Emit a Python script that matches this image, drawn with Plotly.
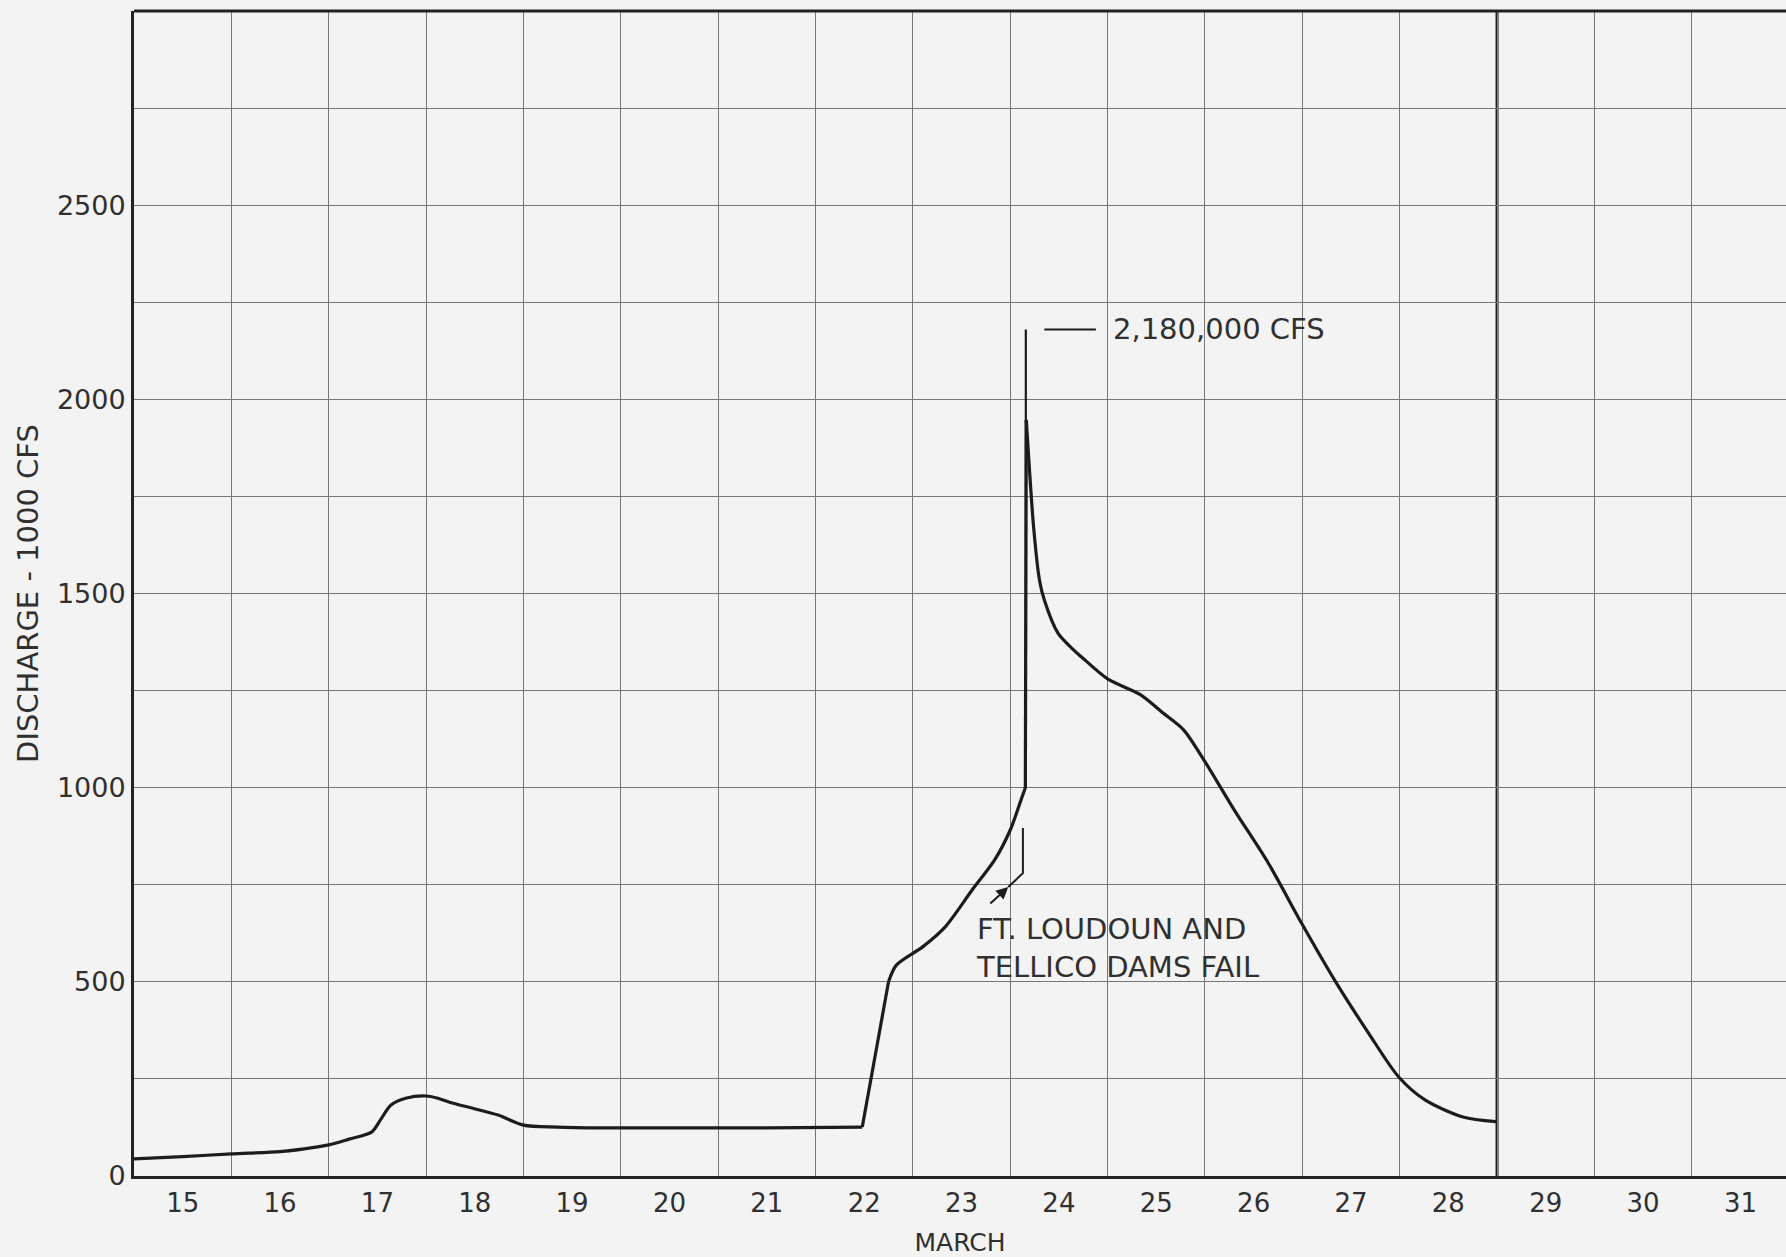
import plotly.graph_objects as go

# Discharge hydrograph, March (day of month, 1000 cfs)
days = [15.0, 15.5, 16.0, 16.5, 16.75, 17.0, 17.21, 17.44, 17.53, 17.64, 17.8,
        18.0, 18.11, 18.27, 18.47, 18.74, 19.0, 19.35, 19.8, 20.5, 21.5,
        22.48, 22.75, 22.83, 23.1, 23.33, 23.61, 23.84, 24.0, 24.11, 24.155,
        24.165, 24.24, 24.30, 24.35, 24.49, 24.65, 24.73, 25.0, 25.34, 25.57,
        25.78, 25.99, 26.30, 26.65, 26.99, 27.33, 27.68, 27.99, 28.26, 28.65,
        28.99]
discharge = [44, 50, 57, 63, 70, 80, 95, 113, 144, 183, 201,
             206, 201, 188, 175, 157, 131, 126, 124, 124, 124,
             126, 500, 543, 590, 641, 737, 814, 891, 968, 1000,
             1947, 1671, 1535, 1483, 1398, 1355, 1337, 1280, 1239, 1192,
             1149, 1071, 943, 806, 652, 505, 368, 255, 196, 152,
             140]

# Pieces of the hydrograph: smooth curves joined by straight rises
segments = [(0, 21, "spline"), (21, 22, "linear"), (22, 30, "spline"),
            (30, 31, "linear"), (31, 51, "spline")]

# Instantaneous peak at dam failure
peak_day = 24.16
peak_base = 1000
peak_value = 2180  # 1000 cfs

# Leader marking the dam failures
fail_leader_days = [23.78, 23.98, 24.13, 24.13]
fail_leader_vals = [698, 744, 780, 896]

day_labels = list(range(15, 32))
y_ticks = list(range(0, 3000, 250))
heavy_day = 29

INK = "#1c1c1c"
TXT = "#303030"
GRID = "#767676"
PAPER = "#f3f3f3"
FONT = "DejaVu Sans"

fig = go.Figure()

for i0, i1, shape in segments:
    fig.add_trace(go.Scatter(
        x=days[i0:i1 + 1], y=discharge[i0:i1 + 1], mode="lines",
        line=dict(color=INK, width=3.2, shape=shape, smoothing=0.8),
        showlegend=False, hoverinfo="skip"))

fig.add_trace(go.Scatter(
    x=[peak_day, peak_day], y=[peak_base, peak_value], mode="lines",
    line=dict(color=INK, width=2.2), showlegend=False, hoverinfo="skip"))

# leader from the dam-failure note
fig.add_trace(go.Scatter(
    x=fail_leader_days[1:], y=fail_leader_vals[1:], mode="lines",
    line=dict(color=INK, width=2), showlegend=False, hoverinfo="skip"))
fig.add_annotation(
    x=fail_leader_days[1], y=fail_leader_vals[1],
    ax=fail_leader_days[0], ay=fail_leader_vals[0],
    xref="x", yref="y", axref="x", ayref="y",
    text="", showarrow=True, arrowhead=2, arrowsize=1.2,
    arrowwidth=2, arrowcolor=INK)

fig.add_annotation(
    x=25.04, y=peak_value, xref="x", yref="y",
    text=f"{peak_value * 1000:,} CFS", showarrow=False,
    xanchor="left", yanchor="middle",
    font=dict(family=FONT, size=29, color=TXT))
fig.add_shape(type="line", xref="x", yref="y",
              x0=24.35, x1=24.88, y0=peak_value, y1=peak_value,
              line=dict(color=INK, width=2))

fig.add_annotation(
    x=23.63, y=588, xref="x", yref="y",
    text="FT. LOUDOUN AND<br>TELLICO DAMS FAIL", showarrow=False,
    xanchor="left", yanchor="middle", align="left",
    font=dict(family=FONT, size=29, color=TXT))

# heavy rule at the end of the record and top border
fig.add_shape(type="line", xref="x", yref="paper",
              x0=heavy_day, x1=heavy_day, y0=0, y1=1,
              line=dict(color="#222222", width=3), layer="below")
fig.add_shape(type="line", xref="paper", yref="paper",
              x0=0, x1=1, y0=1, y1=1,
              line=dict(color="#222222", width=3))

fig.update_layout(
    width=1786, height=1257,
    margin=dict(l=134, r=0, t=11, b=81),
    paper_bgcolor=PAPER, plot_bgcolor=PAPER,
    font=dict(family=FONT, color=TXT, size=26),
    showlegend=False,
)

fig.update_xaxes(
    range=[15, 15 + 1652 / 97.36],
    automargin=False,
    tickmode="array",
    tickvals=[d + 0.5 for d in day_labels],
    ticktext=[str(d) for d in day_labels],
    ticks="", showgrid=False, zeroline=False,
    tickfont=dict(family=FONT, size=26, color=TXT),
    ticklabelstandoff=2,
    showline=True, linecolor="#222222", linewidth=3,
    minor=dict(tick0=15, dtick=1, showgrid=True, gridcolor=GRID, gridwidth=1, ticks=""),
    title=dict(text="MARCH", font=dict(family=FONT, size=25, color=TXT), standoff=29),
)

fig.update_yaxes(
    range=[0, 3000],
    automargin=False,
    tickmode="array",
    tickvals=y_ticks,
    ticktext=[str(v) if v % 500 == 0 else "" for v in y_ticks],
    ticks="", showgrid=True, gridcolor=GRID, gridwidth=1, zeroline=False,
    tickfont=dict(family=FONT, size=27, color=TXT),
    showline=True, linecolor="#222222", linewidth=3,
    title=dict(text="DISCHARGE - 1000 CFS", font=dict(family=FONT, size=29, color=TXT), standoff=10),
)

fig.write_html("out.html")
